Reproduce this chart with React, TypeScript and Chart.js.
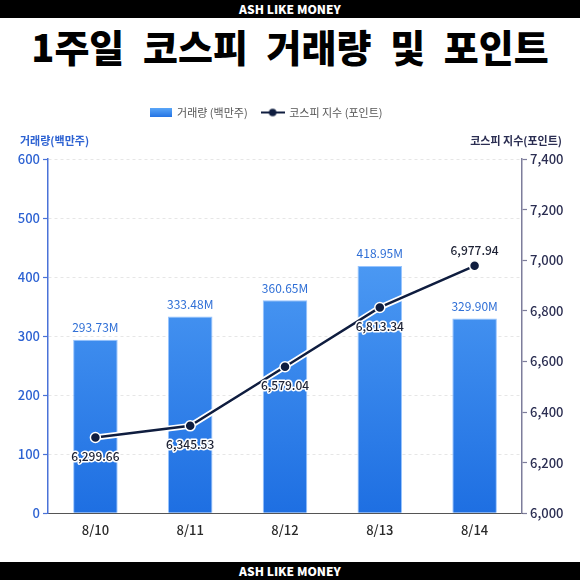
import React, { useEffect, useRef } from "react";
import { Chart, registerables } from "chart.js";

Chart.register(...registerables);

const categories = ["8/10", "8/11", "8/12", "8/13", "8/14"];
const volumeValues = [293.73, 333.48, 360.65, 418.95, 329.9];
const kospiValues = [6299.66, 6345.53, 6579.04, 6813.34, 6977.94];
const volumeTicks = { min: 0, max: 600, step: 100 };
const kospiTicks = { min: 6000, max: 7400, step: 200 };
const seriesNames = ["거래량 (백만주)", "코스피 지수 (포인트)"];
const axisTitles = ["거래량(백만주)", "코스피 지수(포인트)"];
const titleText = "1주일 코스피 거래량 및 포인트";
const brandText = "ASH LIKE MONEY";

const FONT = "'Noto Sans CJK KR', 'Noto Sans', sans-serif";
const BLUE_TEXT = "#2d62d2";
const NAVY = "#0f1d3f";
const NAVY_TEXT = "#2b2e52";

function makeBarIcon() {
  const c = document.createElement("canvas");
  c.width = 22;
  c.height = 9;
  const g = c.getContext("2d")!;
  const gr = g.createLinearGradient(0, 0, 0, 9);
  gr.addColorStop(0, "#5aa6f8");
  gr.addColorStop(1, "#2474e4");
  g.fillStyle = gr;
  g.fillRect(0, 0, 22, 9);
  return c;
}

function makeLineIcon() {
  const c = document.createElement("canvas");
  c.width = 24;
  c.height = 10;
  const g = c.getContext("2d")!;
  g.strokeStyle = NAVY;
  g.lineWidth = 2;
  g.beginPath();
  g.moveTo(0, 5);
  g.lineTo(24, 5);
  g.stroke();
  g.fillStyle = NAVY;
  g.beginPath();
  g.arc(12, 5, 3.8, 0, Math.PI * 2);
  g.fill();
  return c;
}

export default function App() {
  const canvasRef = useRef<HTMLCanvasElement | null>(null);

  useEffect(() => {
    document.body.style.margin = "0";
    const canvas = canvasRef.current;
    if (!canvas) return;
    const barIcon = makeBarIcon();
    const lineIcon = makeLineIcon();

    const lineOutline = {
      id: "lineOutline",
      beforeDatasetDraw(chart: any, args: any) {
        if (args.index !== 1) return;
        const pts = args.meta.data;
        const ctx = chart.ctx;
        ctx.save();
        ctx.strokeStyle = "#ffffff";
        ctx.lineWidth = 6;
        ctx.lineJoin = "round";
        ctx.lineCap = "round";
        ctx.beginPath();
        pts.forEach((p: any, i: number) => {
          if (i === 0) ctx.moveTo(p.x, p.y);
          else ctx.lineTo(p.x, p.y);
        });
        ctx.stroke();
        ctx.restore();
      },
    };

    const dataLabels = {
      id: "dataLabels",
      afterDatasetsDraw(chart: any) {
        const ctx = chart.ctx;
        ctx.save();
        const barMeta = chart.getDatasetMeta(0);
        ctx.font = `400 12px ${FONT}`;
        ctx.fillStyle = "#2f6fd6";
        ctx.textAlign = "center";
        ctx.textBaseline = "bottom";
        barMeta.data.forEach((el: any, i: number) => {
          ctx.fillText(volumeValues[i].toFixed(2) + "M", el.x, el.y - 6);
        });
        const lineMeta = chart.getDatasetMeta(1);
        ctx.font = `500 12px ${FONT}`;
        ctx.lineJoin = "round";
        ctx.lineWidth = 3;
        ctx.strokeStyle = "#ffffff";
        ctx.fillStyle = "#1d2235";
        lineMeta.data.forEach((el: any, i: number) => {
          const txt = kospiValues[i].toLocaleString("en-US", {
            minimumFractionDigits: 2,
            maximumFractionDigits: 2,
          });
          const last = i === lineMeta.data.length - 1;
          const y = last ? el.y - 9 : el.y + 13;
          ctx.textBaseline = last ? "bottom" : "top";
          ctx.strokeText(txt, el.x, y);
          ctx.fillText(txt, el.x, y);
        });
        ctx.restore();
      },
    };

    const axisTitlePlugin = {
      id: "axisTitlePlugin",
      afterDraw(chart: any) {
        const ctx = chart.ctx;
        const top = chart.chartArea.top;
        ctx.save();
        ctx.font = `700 11px ${FONT}`;
        ctx.textBaseline = "middle";
        ctx.textAlign = "left";
        ctx.fillStyle = BLUE_TEXT;
        ctx.fillText(axisTitles[0], 20, top - 18);
        ctx.textAlign = "right";
        ctx.fillStyle = NAVY_TEXT;
        ctx.fillText(axisTitles[1], chart.width - 18, top - 18);
        ctx.restore();
      },
    };

    const legendTweak = {
      id: "legendTweak",
      beforeInit(chart: any) {
        const lg = chart.legend;
        if (!lg) return;
        const orig = lg.fit.bind(lg);
        lg.fit = function () {
          orig();
          lg.height += 31;
        };
      },
      afterLayout(chart: any) {
        const lg = chart.legend;
        if (!lg) return;
        lg.left -= 24;
        lg.right -= 24;
      },
    };

    const chart = new Chart(canvas, {
      type: "bar",
      data: {
        labels: categories,
        datasets: [
          {
            type: "bar",
            label: seriesNames[0],
            data: volumeValues,
            yAxisID: "y",
            order: 2,
            categoryPercentage: 1,
            barPercentage: 0.47,
            borderWidth: 1,
            borderColor: "rgba(140,190,255,0.9)",
            backgroundColor: (c: any) => {
              const area = c.chart.chartArea;
              if (!area) return "#3b8cf0";
              const g = c.chart.ctx.createLinearGradient(0, area.top, 0, area.bottom);
              g.addColorStop(0, "#5eaafa");
              g.addColorStop(1, "#1e6fe2");
              return g;
            },
          },
          {
            type: "line",
            label: seriesNames[1],
            data: kospiValues,
            yAxisID: "y1",
            order: 0,
            borderColor: NAVY,
            borderWidth: 2.5,
            tension: 0,
            pointRadius: 5,
            pointBackgroundColor: NAVY,
            pointBorderColor: "#ffffff",
            pointBorderWidth: 1.5,
          },
        ] as any,
      },
      options: {
        animation: false,
        responsive: true,
        maintainAspectRatio: false,
        events: [],
        layout: { padding: { top: 3, left: 0, right: 0, bottom: 0 } },
        plugins: {
          tooltip: { enabled: false },
          legend: {
            position: "top",
            labels: {
              usePointStyle: true,
              pointStyleWidth: 22,
              boxHeight: 10,
              padding: 14,
              color: "#555555",
              font: { family: FONT, size: 11 },
              sort: (a: any, b: any) => a.datasetIndex - b.datasetIndex,
              generateLabels: (ch: any) => {
                const items = Chart.defaults.plugins.legend.labels.generateLabels(ch);
                return items.map((it: any) => ({
                  ...it,
                  pointStyle: it.datasetIndex === 0 ? barIcon : lineIcon,
                  fontColor: "#555555",
                }));
              },
            },
          },
        },
        scales: {
          x: {
            afterFit: (s: any) => {
              s.height = 36.7;
            },
            grid: { display: false, drawTicks: false },
            border: { display: true, color: "#555555", width: 1 },
            ticks: {
              color: "#2a2a2a",
              padding: 9,
              font: { family: FONT, size: 13, weight: 500 as any },
            },
          },
          y: {
            position: "left",
            min: volumeTicks.min,
            max: volumeTicks.max,
            afterFit: (s: any) => {
              s.width = 48;
            },
            ticks: {
              stepSize: volumeTicks.step,
              color: BLUE_TEXT,
              padding: 3,
              font: { family: FONT, size: 13, weight: 500 as any },
            },
            grid: {
              color: "#e6e6e6",
              lineWidth: 1,
              drawTicks: true,
              tickLength: 5,
              tickColor: "#4a72d8",
              tickWidth: 1.2,
            },
            border: { display: true, color: "#4a72d8", width: 1.5, dash: [3, 3] },
          },
          y1: {
            position: "right",
            min: kospiTicks.min,
            max: kospiTicks.max,
            afterFit: (s: any) => {
              s.width = 58;
            },
            ticks: {
              stepSize: kospiTicks.step,
              color: NAVY_TEXT,
              padding: 3,
              font: { family: FONT, size: 13, weight: 500 as any },
            },
            grid: {
              drawOnChartArea: false,
              drawTicks: true,
              tickLength: 5,
              tickColor: "#7d7d9b",
              tickWidth: 1.2,
            },
            border: { display: true, color: "#7d7d9b", width: 1.5 },
          },
        },
      } as any,
      plugins: [legendTweak, lineOutline, dataLabels, axisTitlePlugin],
    });

    return () => {
      chart.destroy();
    };
  }, []);

  const barStyle: React.CSSProperties = {
    position: "absolute",
    left: 0,
    width: 580,
    height: 18,
    background: "#000",
    color: "#fff",
    fontFamily: FONT,
    fontWeight: 900,
    fontSize: 12,
    lineHeight: "18px",
    textAlign: "center",
  };

  return (
    <div style={{ position: "relative", width: 580, height: 580, background: "#fff", overflow: "hidden" }}>
      <div style={{ ...barStyle, top: 0 }}>{brandText}</div>
      <div
        style={{
          position: "absolute",
          top: 27,
          left: 0,
          width: 580,
          height: 38,
          lineHeight: "38px",
          textAlign: "center",
          fontFamily: FONT,
          fontWeight: 900,
          fontSize: 38,
          wordSpacing: 10,
          color: "#000",
          whiteSpace: "nowrap",
        }}
      >
        {titleText}
      </div>
      <div style={{ position: "absolute", top: 90, left: 0, width: 580, height: 460 }}>
        <canvas ref={canvasRef} />
      </div>
      <div style={{ ...barStyle, top: 562 }}>{brandText}</div>
    </div>
  );
}
